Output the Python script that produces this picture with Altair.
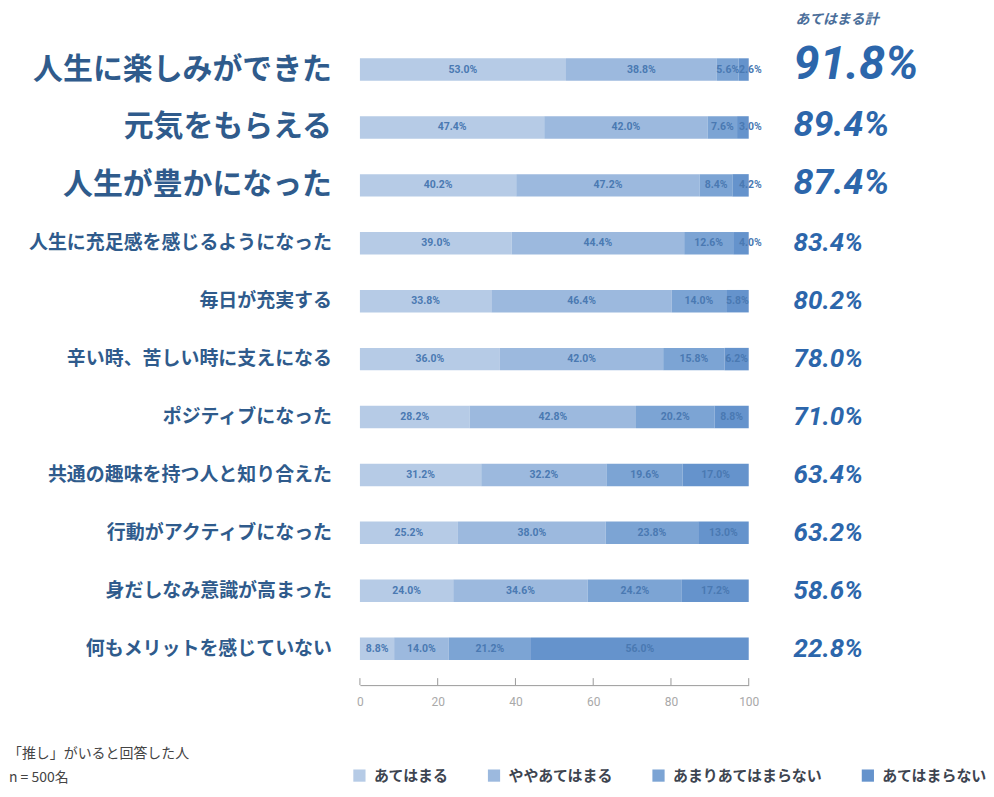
import altair as alt
import pandas as pd

items = [
    "人生に楽しみができた",
    "元気をもらえる",
    "人生が豊かになった",
    "人生に充足感を感じるようになった",
    "毎日が充実する",
    "辛い時、苦しい時に支えになる",
    "ポジティブになった",
    "共通の趣味を持つ人と知り合えた",
    "行動がアクティブになった",
    "身だしなみ意識が高まった",
    "何もメリットを感じていない",
]
categories = ["あてはまる", "ややあてはまる", "あまりあてはまらない", "あてはまらない"]
atehamaru = [53.0, 47.4, 40.2, 39.0, 33.8, 36.0, 28.2, 31.2, 25.2, 24.0, 8.8]
yaya_atehamaru = [38.8, 42.0, 47.2, 44.4, 46.4, 42.0, 42.8, 32.2, 38.0, 34.6, 14.0]
amari_atehamaranai = [5.6, 7.6, 8.4, 12.6, 14.0, 15.8, 20.2, 19.6, 23.8, 24.2, 21.2]
atehamaranai = [2.6, 3.0, 4.2, 4.0, 5.8, 6.2, 8.8, 17.0, 13.0, 17.2, 56.0]
totals = [91.8, 89.4, 87.4, 83.4, 80.2, 78.0, 71.0, 63.4, 63.2, 58.6, 22.8]
x_ticks = [0, 20, 40, 60, 80, 100]
total_header = "あてはまる計"
footnote_1 = "「推し」がいると回答した人"
footnote_2 = "n = 500名"

colors = ["#b6cbe6", "#9cb9de", "#7ca4d4", "#6593cc"]
JP = "Noto Sans CJK JP"

series = [atehamaru, yaya_atehamaru, amari_atehamaranai, atehamaranai]
rows = []
for ci, (cat, vals) in enumerate(zip(categories, series)):
    for ri, (it, v) in enumerate(zip(items, vals)):
        rows.append({"item": it, "rank": ri, "category": cat, "cat_order": ci, "value": v})
bar_df = pd.DataFrame(rows)
item_df = pd.DataFrame({"item": items, "rank": list(range(len(items))), "total": totals})
tick_df = pd.DataFrame({"v": x_ticks})

W, H = 390, 654

yenc = alt.Y("item:N", sort=items, axis=None,
             scale=alt.Scale(paddingInner=0.612, paddingOuter=0.435))
xscale = alt.Scale(domain=[0, 100], nice=False)

base = alt.Chart(bar_df).transform_stack(
    stack="value", groupby=["item"],
    sort=[alt.SortField("cat_order", order="ascending")],
    as_=["x0", "x1"],
).transform_calculate(
    mid="datum.value < 5 ? datum.x1 + 0.4 : (datum.x0 + datum.x1) / 2",
    label="format(datum.value, '.1f') + '%'",
)

bars = base.mark_bar().encode(
    x=alt.X("x0:Q", scale=xscale,
            axis=alt.Axis(values=x_ticks, title=None, grid=False, ticks=False, tickSize=0,
                          labelPadding=11, labelFontSize=12, labelColor="#a9a9a9",
                          domainColor="#9a9a9a", labelFont="Roboto", format="d",
                          labelFlush=False)),
    x2="x1:Q",
    y=yenc,
    color=alt.Color("category:N", sort=categories,
                    scale=alt.Scale(domain=categories, range=colors),
                    legend=alt.Legend(orient="none", legendX=-8, legendY=737,
                                      direction="horizontal", title=None,
                                      symbolType="square", symbolSize=150,
                                      symbolStrokeWidth=0, symbolOpacity=1,
                                      labelFontSize=15, labelFont=JP,
                                      labelFontWeight="bold", labelColor="#3d4450",
                                      columnPadding=37, labelOffset=7, labelLimit=400)),
)

seg_labels = base.mark_text(font="Roboto", fontWeight="bold", fontSize=10.5,
                            color="#4a79b2", baseline="middle").encode(
    x=alt.X("mid:Q", scale=xscale), y=yenc, text="label:N")

ticks = alt.Chart(tick_df).mark_rule(color="#9a9a9a").encode(
    x=alt.X("v:Q", scale=xscale), y=alt.value(H - 7), y2=alt.value(H))

left_labels = alt.Chart(item_df).mark_text(
    align="right", baseline="middle", font=JP, fontWeight="bold", color="#2f5b8c"
).encode(
    x=alt.value(-28), y=yenc, text="item:N",
    size=alt.condition("datum.rank < 3", alt.value(30), alt.value(19)),
)

tot_base = alt.Chart(item_df).transform_calculate(
    tl="format(datum.total, '.1f') + '%'")

def tot_layer(test, fs, dy):
    return tot_base.transform_filter(test).mark_text(
        align="left", baseline="middle", font="Roboto", fontWeight="bold",
        fontStyle="italic", fontSize=fs, color="#2c66ab", dy=dy
    ).encode(x=alt.value(435), y=yenc, text="tl:N")

tot_a = tot_layer("datum.rank == 0", 47, -5)
tot_b = tot_layer("datum.rank == 1 || datum.rank == 2", 36, -2)
tot_c = tot_layer("datum.rank >= 3", 26, 0)

header = alt.Chart(pd.DataFrame({"t": [total_header]})).mark_text(
    align="left", baseline="middle", font=JP, fontWeight="bold", fontStyle="italic",
    fontSize=14, color="#4a6e9a"
).encode(x=alt.value(437), y=alt.value(-13), text="t:N")

foot1 = alt.Chart(pd.DataFrame({"t": [footnote_1]})).mark_text(
    align="left", baseline="middle", font=JP, fontSize=14, color="#444444"
).encode(x=alt.value(-353), y=alt.value(723), text="t:N")

foot2 = alt.Chart(pd.DataFrame({"t": [footnote_2]})).mark_text(
    align="left", baseline="middle", font=JP, fontSize=14, color="#444444"
).encode(x=alt.value(-352), y=alt.value(747), text="t:N")

chart = alt.layer(
    bars, seg_labels, ticks, left_labels, tot_a, tot_b, tot_c, header, foot1, foot2
).properties(
    width=W, height=H,
    autosize=alt.AutoSizeParams(type="none"),
    padding={"left": 353, "top": 24, "right": 238, "bottom": 100},
).configure_view(stroke=None)

chart.save("out.html", embed_options={"renderer": "svg", "actions": False})
